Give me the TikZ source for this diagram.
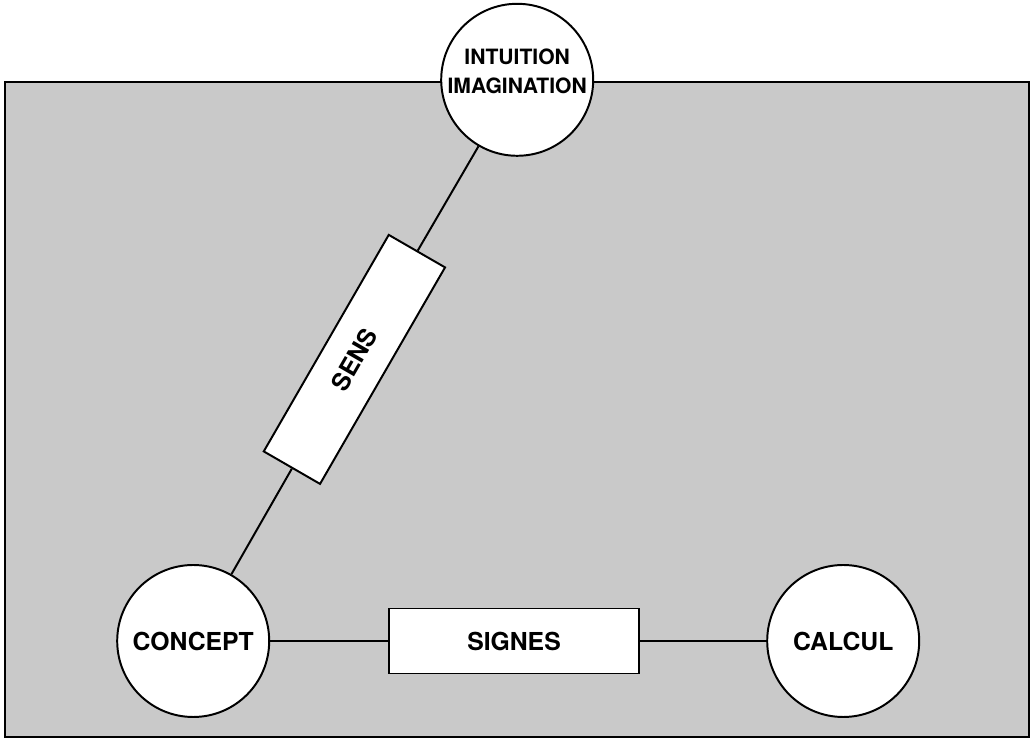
\documentclass[tikz,border=0pt]{standalone}
\usepackage{fontspec}
\setmainfont{TeX Gyre Heros}
\usetikzlibrary{positioning}

\begin{document}
\begin{tikzpicture}[
  idea/.style={circle, draw, fill=white, line width=1.4pt, minimum size=3.8cm,
    inner sep=0pt, align=center, font=\bfseries\fontsize{17.6}{20}\selectfont},
  link/.style={rectangle, draw, fill=white, line width=1.4pt, minimum width=6.25cm,
    minimum height=1.625cm, inner sep=0pt, font=\bfseries\fontsize{17.6}{20}\selectfont},
  wire/.style={line width=1.4pt}]
  \useasboundingbox (0,0) rectangle (25.8,18.475);

  % Shaded field
  \fill[black!21] (0.13,0.05) rectangle (25.73,16.43);
  \draw[wire] (0.13,0.05) rectangle (25.73,16.43);

  % Circles
  \node[idea, font=\bfseries\fontsize{15}{20.6}\selectfont] (intuition) at (12.93,16.48) {INTUITION\\IMAGINATION\\[-0.3cm]};
  \node[idea] (concept) at (4.83,2.45) {CONCEPT};
  \node[idea] (calcul) at (21.08,2.45) {CALCUL};

  % Boxes on the edges
  \node[link] (signes) at (12.85,2.45) {SIGNES};
  \node[link, rotate=60] (sens) at (8.86,9.49) {SENS};

  % Edges
  \draw[wire] (concept) -- (signes) -- (calcul);
  \draw[wire] (concept) -- (sens) -- (intuition);
\end{tikzpicture}
\end{document}
